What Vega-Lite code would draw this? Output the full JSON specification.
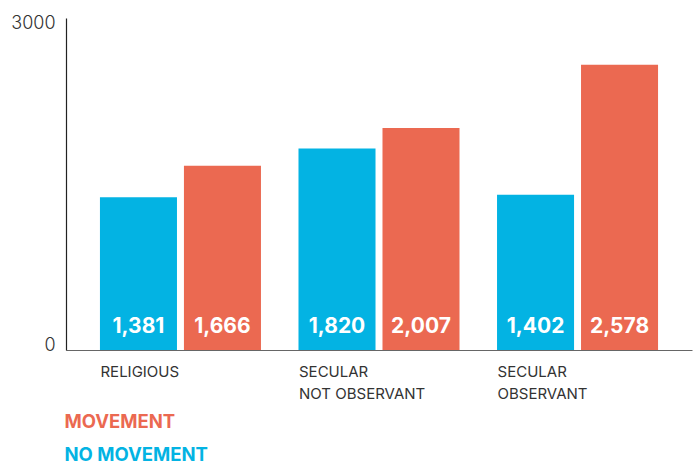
{
  "$schema": "https://vega.github.io/schema/vega-lite/v6.json",
  "width": 626,
  "height": 332,
  "autosize": {"type": "none"},
  "padding": {"left": 66, "top": 18, "right": 5, "bottom": 117},
  "background": "white",
  "config": {"view": {"stroke": null}, "font": "Inter"},
  "data": {
    "values": [
      {"group": "RELIGIOUS", "status": "NO MOVEMENT", "value": 1381},
      {"group": "RELIGIOUS", "status": "MOVEMENT", "value": 1666},
      {"group": "SECULAR NOT OBSERVANT", "status": "NO MOVEMENT", "value": 1820},
      {"group": "SECULAR NOT OBSERVANT", "status": "MOVEMENT", "value": 2007},
      {"group": "SECULAR OBSERVANT", "status": "NO MOVEMENT", "value": 1402},
      {"group": "SECULAR OBSERVANT", "status": "MOVEMENT", "value": 2578}
    ]
  },
  "encoding": {
    "x": {
      "field": "group",
      "type": "nominal",
      "sort": null,
      "scale": {"paddingInner": 0.189, "paddingOuter": 0.171},
      "axis": {
        "title": null,
        "labelAngle": 0,
        "labelAlign": "left",
        "labelBaseline": "top",
        "labelOffset": -80,
        "labelPadding": 14,
        "labelFontSize": 15,
        "labelColor": "#333333",
        "labelLineHeight": 22,
        "labelExpr": "indexof(datum.label, ' ') > 0 ? [slice(datum.label, 0, indexof(datum.label, ' ')), slice(datum.label, indexof(datum.label, ' ') + 1)] : datum.label",
        "ticks": false,
        "domainColor": "#666666",
        "domainWidth": 1.2
      }
    },
    "xOffset": {
      "field": "status",
      "type": "nominal",
      "sort": ["NO MOVEMENT", "MOVEMENT"],
      "scale": {"paddingInner": 0.083, "paddingOuter": 0}
    }
  },
  "layer": [
    {
      "mark": {"type": "bar"},
      "encoding": {
        "y": {
          "field": "value",
          "type": "quantitative",
          "scale": {"domain": [0, 3000], "nice": false},
          "axis": {
            "title": null,
            "values": [0, 3000],
            "format": "d",
            "grid": false,
            "ticks": false,
            "labelFlush": true,
            "labelFlushOffset": 4,
            "labelPadding": 11,
            "labelFontSize": 18,
            "labelColor": "#333333",
            "labelFontWeight": 300,
            "domainColor": "#222222",
            "domainWidth": 1.2
          }
        },
        "color": {
          "field": "status",
          "type": "nominal",
          "sort": ["MOVEMENT", "NO MOVEMENT"],
          "scale": {"domain": ["MOVEMENT", "NO MOVEMENT"], "range": ["#eb6951", "#03b3e3"]},
          "legend": {
            "title": null,
            "orient": "none",
            "legendX": -20,
            "legendY": 395,
            "symbolSize": 0,
            "symbolOpacity": 0,
            "symbolStrokeWidth": 0,
            "labelOffset": 0,
            "labelFontSize": 18.5,
            "labelFontWeight": "bold",
            "rowPadding": 13.5,
            "encode": {
              "labels": {"update": {"fill": {"scale": "color", "field": "value"}}}
            }
          }
        }
      }
    },
    {
      "mark": {"type": "text", "color": "white", "fontSize": 21, "fontWeight": "bold", "baseline": "alphabetic", "dy": -17},
      "encoding": {
        "y": {"datum": 0, "type": "quantitative"},
        "text": {"field": "value", "type": "quantitative", "format": ","}
      }
    }
  ]
}
